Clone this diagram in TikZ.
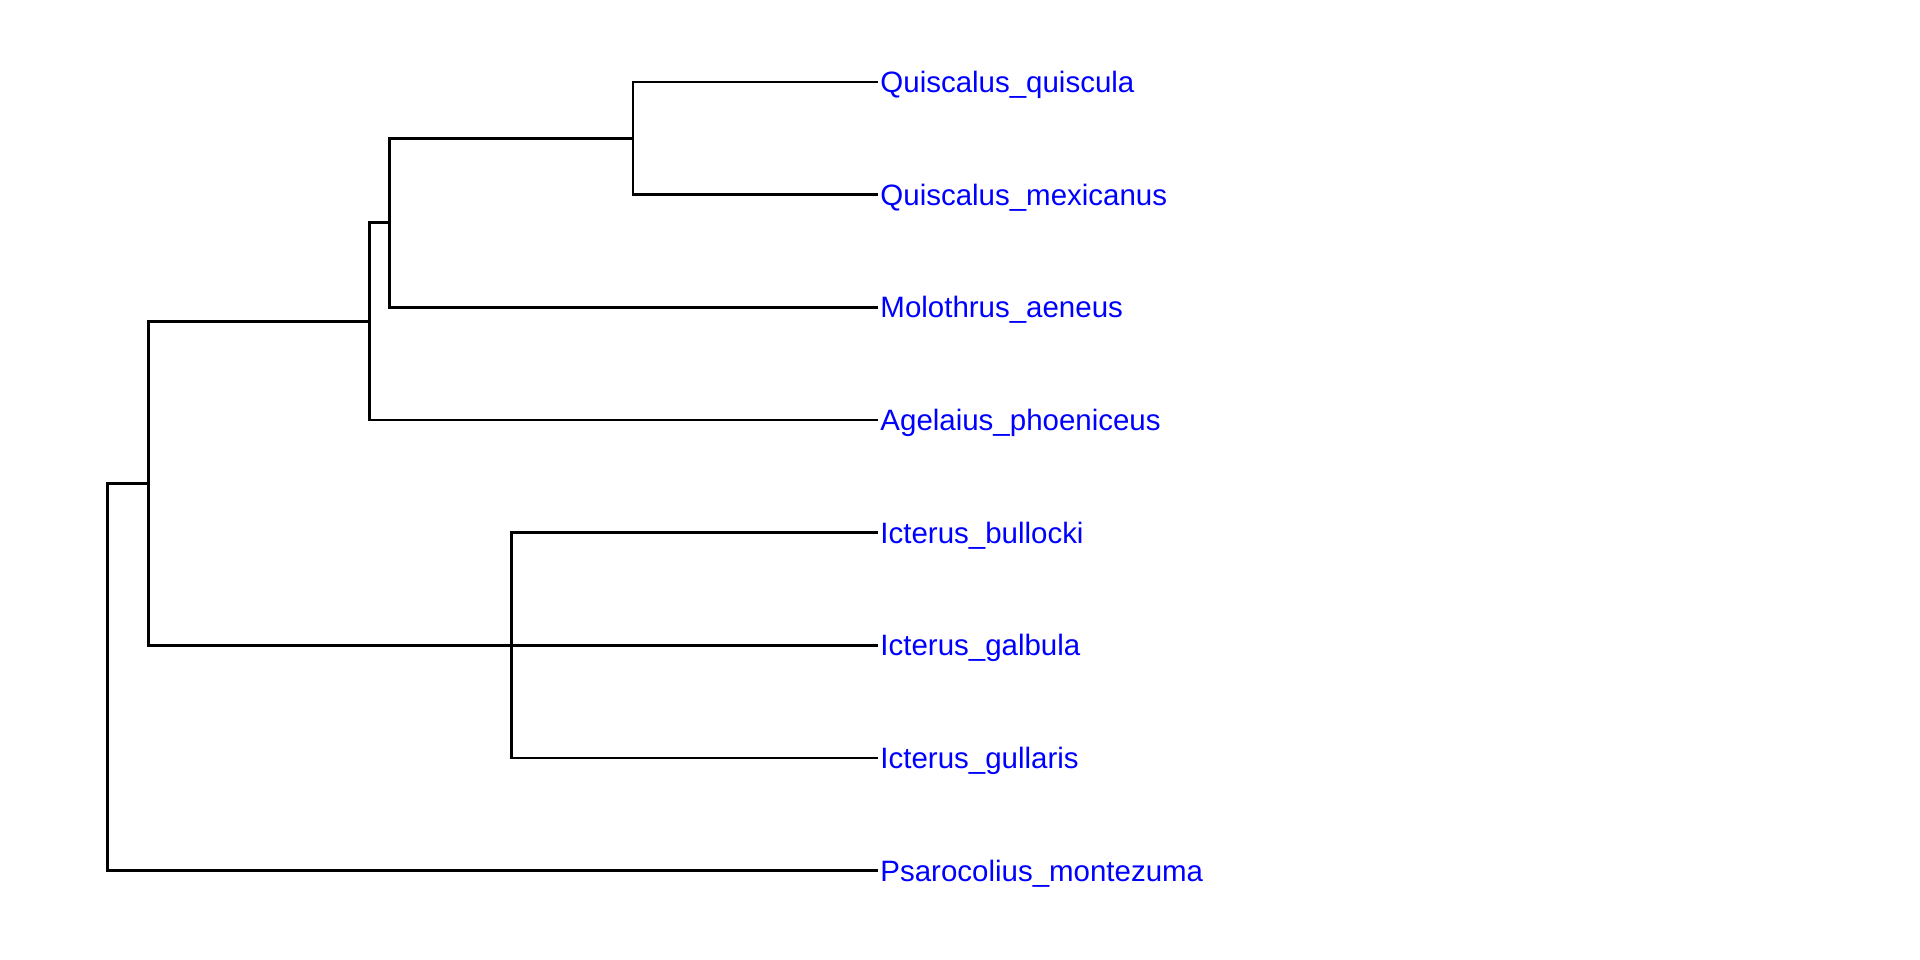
\documentclass[tikz,border=0pt]{standalone}
\usepackage{fontspec}
\setmainfont{Liberation Sans}
\tikzset{
  branch/.style={line width=0.8pt},
  taxon/.style={anchor=west, inner xsep=0.5pt, inner ysep=0pt, text=blue,
    font=\fontsize{8.38}{10}\selectfont, text height=0.21cm, text depth=0pt},
}

\begin{document}
\begin{tikzpicture}[x=0.01cm, y=-0.01cm]
    \useasboundingbox (0, 0) rectangle (1920, 960);
    % taxa
    \node[taxon] (qq) at (878, 82.0) {Quiscalus\_quiscula};
    \node[taxon] (qm) at (878, 194.7) {Quiscalus\_mexicanus};
    \node[taxon] (ma) at (878, 307.3) {Molothrus\_aeneus};
    \node[taxon] (ap) at (878, 420.0) {Agelaius\_phoeniceus};
    \node[taxon] (ib) at (878, 532.6) {Icterus\_bullocki};
    \node[taxon] (ga) at (878, 645.3) {Icterus\_galbula};
    \node[taxon] (gu) at (878, 757.9) {Icterus\_gullaris};
    \node[taxon] (pm) at (878, 870.6) {Psarocolius\_montezuma};
    % internal nodes
    \coordinate (quis) at (633.0, 138.3);
    \coordinate (molq) at (389.4, 222.8);
    \coordinate (agel) at (369.8, 321.4);
    \coordinate (icte) at (511.8, 645.3);
    \coordinate (ingr) at (148.2, 483.4);
    \coordinate (root) at (107.8, 677.0);
    % branches
    \draw[branch] (quis) |- (qq.west) (quis) |- (qm.west);
    \draw[branch] (molq) |- (quis) (molq) |- (ma.west);
    \draw[branch] (agel) |- (molq) (agel) |- (ap.west);
    \draw[branch] (icte) |- (ib.west) (icte) |- (ga.west) (icte) |- (gu.west);
    \draw[branch] (ingr) |- (agel) (ingr) |- (icte);
    \draw[branch] (root) |- (ingr) (root) |- (pm.west);
\end{tikzpicture}
\end{document}
